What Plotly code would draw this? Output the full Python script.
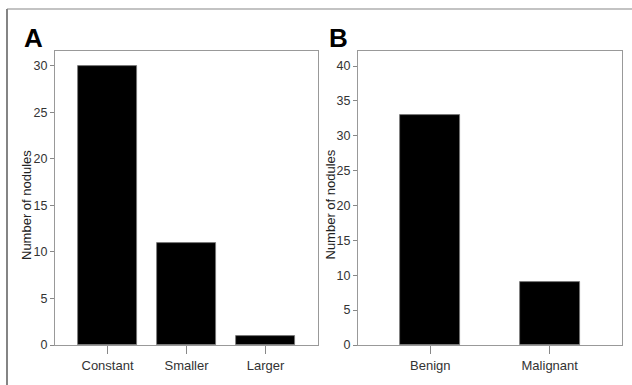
import plotly.graph_objects as go

cats_a = ["Constant", "Smaller", "Larger"]
vals_a = [30, 11, 1]
cats_b = ["Benign", "Malignant"]
vals_b = [33, 9]
ticks_a = [0, 5, 10, 15, 20, 25, 30]
ticks_b = [0, 5, 10, 15, 20, 25, 30, 35, 40]
ytitle = "Number of nodules"

W, H = 632, 385
fig = go.Figure()
fig.add_trace(go.Bar(x=cats_a, y=vals_a, width=0.75, marker=dict(color="black", line=dict(color="#777", width=0.8)),
                     xaxis="x", yaxis="y", showlegend=False, hoverinfo="skip"))
fig.add_trace(go.Bar(x=cats_b, y=vals_b, width=0.5, marker=dict(color="black", line=dict(color="#777", width=0.8)),
                     xaxis="x2", yaxis="y2", showlegend=False, hoverinfo="skip"))

tickfont = dict(family="Liberation Sans, Arial, sans-serif", size=12.5, color="#333")
catfont = dict(family="Liberation Sans, Arial, sans-serif", size=13, color="#333")
titlefont = dict(family="Liberation Sans, Arial, sans-serif", size=13, color="#222")
base = dict(showline=True, linecolor="#999", linewidth=1, mirror=True, ticks="outside",
            tickcolor="#888", showgrid=False, zeroline=False, automargin=False)

fig.update_layout(
    template="none",
    width=W, height=H, margin=dict(l=0, r=0, t=0, b=0, pad=0, autoexpand=False),
    paper_bgcolor="white", plot_bgcolor="white", bargap=0, showlegend=False,
    xaxis=dict(domain=[55/W, 318/W], range=[-0.665, 2.665], anchor="y", tickfont=catfont, ticklen=8, **base),
    yaxis=dict(domain=[40/H, 334/H], range=[0, 31.6], tickvals=ticks_a, anchor="x", tickfont=tickfont, ticklen=4, **base),
    xaxis2=dict(domain=[358/W, 622/W], range=[-0.605, 1.605], anchor="y2", tickfont=catfont, ticklen=8, **base),
    yaxis2=dict(domain=[40/H, 334/H], range=[0, 42.15], tickvals=ticks_b, anchor="x2", tickfont=tickfont, ticklen=4, **base),
)
for xc in (27, 330.5):
    fig.add_annotation(text=ytitle, x=xc/W, y=1-205/H, xref="paper", yref="paper", showarrow=False,
                       textangle=-90, xanchor="center", yanchor="middle", font=titlefont)
fig.add_annotation(text="<b>A</b>", x=22/W, y=1-38/H, xref="paper", yref="paper", showarrow=False,
                   xanchor="left", yanchor="middle", font=dict(family="Liberation Sans, Arial", size=26, color="black"))
fig.add_annotation(text="<b>B</b>", x=327/W, y=1-38/H, xref="paper", yref="paper", showarrow=False,
                   xanchor="left", yanchor="middle", font=dict(family="Liberation Sans, Arial", size=26, color="black"))
fig.add_shape(type="line", xref="paper", yref="paper", x0=7/W, x1=7/W, y0=0, y1=1-9/H, line=dict(color="#333", width=1.2))
fig.add_shape(type="line", xref="paper", yref="paper", x0=7/W, x1=1, y0=1-9/H, y1=1-9/H, line=dict(color="#888", width=1.2))

fig.write_html("out.html", config={"displayModeBar": False, "responsive": False},
               post_script="document.body.style.margin='0';document.body.style.overflow='hidden';")
